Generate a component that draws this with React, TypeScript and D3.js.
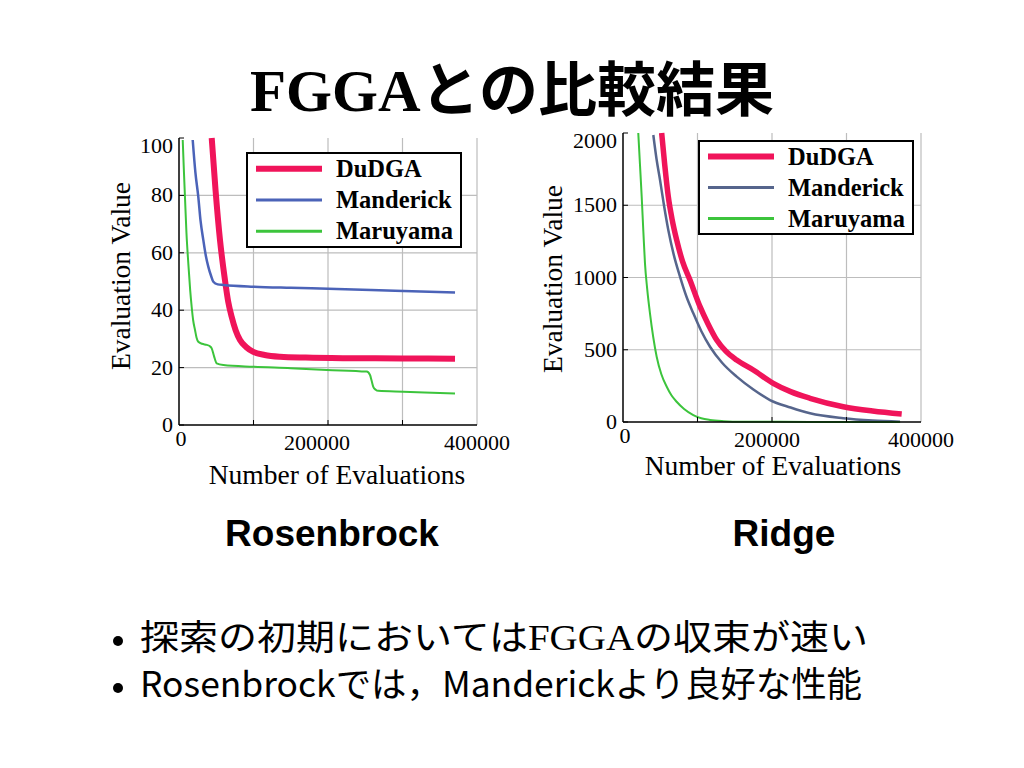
import React from 'react';
import * as d3 from 'd3';

// Rosenbrock (left chart) — [evaluations, value]
const rosenDuDGA: [number, number][] = [
  [43900, 100], [49000, 82], [55000, 64.5], [61700, 50.5], [66000, 43], [70700, 37.7],
  [76000, 33], [81900, 29.6], [90000, 27.2], [99700, 25.5], [115000, 24.4],
  [135600, 23.8], [170000, 23.5], [220000, 23.3], [300000, 23.2], [370500, 23.1],
];
const rosenManderick: [number, number][] = [
  [18400, 99.3], [22000, 88], [25900, 79.5], [29000, 71], [32600, 64.5], [36000, 59],
  [39300, 55.2], [43000, 52], [46100, 49.9], [52000, 49], [59500, 48.8],
  [99700, 48.2], [150000, 47.8], [211700, 47.4], [290000, 46.8], [370500, 46.2],
];
const rosenMaruyama: [number, number][] = [
  [5000, 99.3], [6500, 89], [8000, 79.5], [10000, 67], [12500, 56.3], [15000, 47],
  [17000, 41.2], [19000, 36.5], [21500, 33.1], [23500, 30.5], [25900, 29.0],
  [31000, 28.3], [37200, 27.9], [41000, 27.5], [43900, 26.7], [47000, 24],
  [50600, 21.5], [59500, 20.9], [99700, 20.3], [150000, 19.8], [198300, 19.2],
  [251900, 18.6], [256400, 17.4], [258500, 15.5], [260800, 13.3], [264000, 12.3],
  [267500, 11.9], [301000, 11.6], [370500, 11.0],
];

// Ridge (right chart)
const ridgeDuDGA: [number, number][] = [
  [51900, 2000], [56000, 1780], [60800, 1559], [66000, 1400], [72000, 1260],
  [80000, 1110], [89900, 983], [103400, 798], [114000, 680], [125800, 567],
  [138000, 490], [152600, 429], [174900, 360], [201700, 268], [225000, 210],
  [251000, 164], [295700, 106], [335000, 76], [374100, 55],
];
const ridgeManderick: [number, number][] = [
  [40700, 1986], [45000, 1820], [49700, 1675], [55000, 1500], [60800, 1329],
  [68000, 1160], [76500, 1006], [85000, 870], [94400, 752], [105000, 630],
  [116800, 521], [133000, 410], [152600, 314], [175000, 225], [197300, 152],
  [225000, 100], [251000, 60], [295700, 26], [335000, 10], [371800, 2],
];
const ridgeMaruyama: [number, number][] = [
  [20500, 2000], [22800, 1780], [25100, 1559], [27300, 1320], [29500, 1098],
  [32500, 920], [36200, 752], [40500, 590], [45200, 452], [51500, 330],
  [58700, 244], [65000, 185], [72000, 140], [82000, 90], [94400, 48],
  [105000, 26], [116800, 14], [135000, 6], [161000, 2], [250000, 0.5], [372000, 0],
];

const seriesNames = ['DuDGA', 'Manderick', 'Maruyama'];
const xTickLabels = [0, 200000, 400000];
const xGrid = [100000, 200000, 300000];
const rosenYTicks = [0, 20, 40, 60, 80, 100];
const ridgeYTicks = [0, 500, 1000, 1500, 2000];

const serif = '"Liberation Serif", "Times New Roman", serif';
const jpSans = '"Noto Sans CJK JP", "Noto Sans", sans-serif';
const arial = '"Liberation Sans", Arial, sans-serif';

interface ChartProps {
  left: number;
  top: number;
  width: number;
  height: number;
  yMax: number;
  yTicks: number[];
  series: [number, number][][];
  colors: string[];
  widths: number[];
  legend: { x: number; y: number; w: number; h: number };
  yLabelX: number;
  yLabelY: number;
  xLabelY: number;
  xLabelX: number;
  midShift: number;
}

function Chart(p: ChartProps) {
  const x = d3.scaleLinear().domain([0, 400000]).range([p.left, p.left + p.width]);
  const y = d3.scaleLinear().domain([0, p.yMax]).range([p.top + p.height, p.top]);
  const line = d3
    .line<[number, number]>()
    .x((d) => x(d[0]))
    .y((d) => y(d[1]))
    .curve(d3.curveMonotoneX);
  const bottom = p.top + p.height;
  const right = p.left + p.width;
  const rowH = p.legend.h / 3;

  return (
    <g>
      {/* grid */}
      {xGrid.map((v) => (
        <line key={'gx' + v} x1={x(v)} x2={x(v)} y1={p.top} y2={bottom} stroke="#bdbdbd" strokeWidth={1.2} />
      ))}
      {p.yTicks.slice(1, -1).map((v) => (
        <line key={'gy' + v} x1={p.left} x2={right} y1={y(v)} y2={y(v)} stroke="#bdbdbd" strokeWidth={1.2} />
      ))}
      <line x1={right} x2={right} y1={p.top} y2={bottom} stroke="#bdbdbd" strokeWidth={1.2} />
      {/* curves */}
      {p.series.map((s, i) => (
        <path
          key={i}
          d={line(s) as string}
          fill="none"
          stroke={p.colors[i]}
          strokeWidth={p.widths[i]}
          strokeLinejoin="round"
        />
      ))}
      {/* axes */}
      <line x1={p.left} x2={p.left} y1={p.top} y2={bottom} stroke="#000" strokeWidth={1.5} />
      <line x1={p.left} x2={right} y1={bottom} y2={bottom} stroke="#000" strokeWidth={1.5} />
      {xGrid.map((v) => (
        <line key={'tk' + v} x1={x(v)} x2={x(v)} y1={bottom} y2={bottom - 5} stroke="#000" strokeWidth={1} />
      ))}
      {p.yTicks.map((v) => (
        <line key={'ty' + v} x1={p.left} x2={p.left + 5} y1={y(v)} y2={y(v)} stroke="#000" strokeWidth={1} />
      ))}
      {/* tick labels */}
      {p.yTicks.map((v) => (
        <text
          key={'yl' + v}
          x={p.left - 6}
          y={Math.max(y(v), p.top + 8) + 7}
          textAnchor="end"
          fontFamily={serif}
          fontSize={22}
        >
          {v}
        </text>
      ))}
      {xTickLabels.map((v, i) => (
        <text
          key={'xl' + v}
          x={i === 0 ? x(v) + 2 : i === 1 ? x(v) + p.midShift : x(v)}
          y={i === 0 ? bottom + 21 : bottom + 25}
          textAnchor="middle"
          fontFamily={serif}
          fontSize={22}
        >
          {v}
        </text>
      ))}
      <text x={p.xLabelX} y={p.xLabelY} textAnchor="middle" fontFamily={serif} fontSize={27.5}>
        Number of Evaluations
      </text>
      <text
        transform={`translate(${p.yLabelX},${p.yLabelY}) rotate(-90)`}
        textAnchor="middle"
        fontFamily={serif}
        fontSize={27.5}
      >
        Evaluation Value
      </text>
      {/* legend */}
      <rect
        x={p.legend.x}
        y={p.legend.y}
        width={p.legend.w}
        height={p.legend.h}
        fill="#fff"
        stroke="#000"
        strokeWidth={2}
      />
      {seriesNames.map((n, i) => {
        const cy = p.legend.y + rowH * (i + 0.5);
        return (
          <g key={n}>
            <line
              x1={p.legend.x + 9}
              x2={p.legend.x + 75}
              y1={cy}
              y2={cy}
              stroke={p.colors[i]}
              strokeWidth={i === 0 ? 6 : 3}
            />
            <text
              x={p.legend.x + 89}
              y={cy + 8}
              fontFamily={serif}
              fontWeight="bold"
              fontSize={24.5}
            >
              {n}
            </text>
          </g>
        );
      })}
    </g>
  );
}

export default function App() {
  return (
    <svg width={1024} height={768} style={{ position: 'absolute', left: 0, top: 0, background: '#fff' }}>
      <text x={512} y={111} textAnchor="middle" fontWeight="bold" fontSize={59}>
        <tspan fontFamily={serif}>FGGA</tspan>
        <tspan fontFamily={jpSans}>との比較結果</tspan>
      </text>

      <Chart
        left={179}
        top={138}
        width={298}
        height={287}
        yMax={100}
        yTicks={rosenYTicks}
        series={[rosenDuDGA, rosenManderick, rosenMaruyama]}
        colors={['#f0145a', '#4b63b8', '#3cc43c']}
        widths={[6, 2.5, 2]}
        legend={{ x: 247, y: 153, w: 214, h: 94 }}
        yLabelX={130}
        yLabelY={276}
        xLabelX={337}
        xLabelY={484}
        midShift={-11}
      />
      <Chart
        left={623}
        top={133}
        width={298}
        height={289}
        yMax={2000}
        yTicks={ridgeYTicks}
        series={[ridgeDuDGA, ridgeManderick, ridgeMaruyama]}
        colors={['#f0145a', '#56658c', '#3cc43c']}
        widths={[5.5, 2.5, 2]}
        legend={{ x: 699, y: 141, w: 214, h: 93 }}
        yLabelX={562}
        yLabelY={279}
        xLabelX={773}
        xLabelY={475}
        midShift={-5}
      />

      <text x={332} y={546} textAnchor="middle" fontFamily={arial} fontWeight="bold" fontSize={37}>
        Rosenbrock
      </text>
      <text x={784} y={546} textAnchor="middle" fontFamily={arial} fontWeight="bold" fontSize={37}>
        Ridge
      </text>

      <circle cx={118} cy={641} r={5} fill="#000" />
      <text x={140} y={650} fontFamily={jpSans} fontSize={35} textLength={728} lengthAdjust="spacingAndGlyphs">
        探索の初期においては<tspan fontFamily={serif}>FGGA</tspan>の収束が速い
      </text>
      <circle cx={118} cy={688} r={5} fill="#000" />
      <text x={140} y={697} fontFamily={jpSans} fontSize={35} textLength={722} lengthAdjust="spacingAndGlyphs">
        Rosenbrockでは，Manderickより良好な性能
      </text>
    </svg>
  );
}
